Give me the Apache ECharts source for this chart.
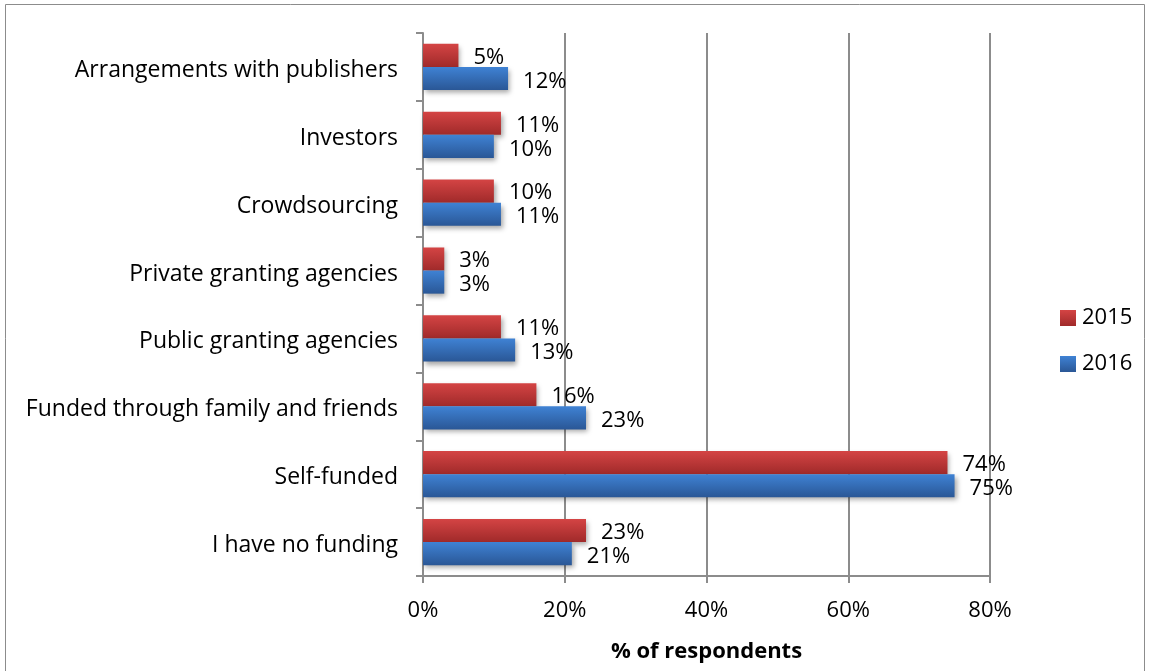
<!DOCTYPE html>
<html>
<head>
<meta charset="utf-8">
<script src="https://cdn.jsdelivr.net/npm/echarts@6/dist/echarts.min.js"></script>
<style>
  html, body { margin: 0; padding: 0; background: #fff; }
  #chart { width: 1149px; height: 671px; }
</style>
</head>
<body>
<div id="chart"></div>
<script>
// Funding sources, top to bottom
const categories = [
  'Arrangements with publishers',
  'Investors',
  'Crowdsourcing',
  'Private granting agencies',
  'Public granting agencies',
  'Funded through family and friends',
  'Self-funded',
  'I have no funding'
];
const values2015 = [5, 11, 10, 3, 11, 16, 74, 23];
const values2016 = [12, 10, 11, 3, 13, 23, 75, 21];
const xTicks = [0, 20, 40, 60, 80];

const FONT = '"Open Sans", "Noto Sans", sans-serif';
const FS = 22;

function grad(top, bottom) {
  return new echarts.graphic.LinearGradient(0, 0, 0, 1, [
    { offset: 0, color: top },
    { offset: 1, color: bottom }
  ]);
}

const chart = echarts.init(document.getElementById('chart'));
chart.setOption({
  animation: false,
  backgroundColor: '#fff',
  graphic: [{
    type: 'rect',
    shape: { x: 5.5, y: 4.5, width: 1139, height: 670 },
    style: { fill: 'none', stroke: '#8c8c8c', lineWidth: 1 },
    silent: true
  }],
  grid: { left: 423, right: 159, top: 33, bottom: 95 },
  legend: {
    orient: 'vertical',
    left: 1055,
    top: 302,
    itemWidth: 16,
    itemHeight: 16,
    itemGap: 24,
    icon: 'rect',
    textStyle: { fontFamily: FONT, fontSize: FS, color: '#000', padding: [2, 0, 0, 1] },
    data: ['2015', '2016']
  },
  xAxis: {
    type: 'value',
    min: xTicks[0],
    max: xTicks[xTicks.length - 1],
    interval: 20,
    name: '% of respondents',
    nameLocation: 'middle',
    nameGap: 65,
    nameTextStyle: { fontFamily: FONT, fontSize: FS, fontWeight: 'bold', color: '#000' },
    axisLine: { show: true, lineStyle: { color: '#8c8c8c', width: 2 } },
    axisTick: { show: true, length: 7, lineStyle: { color: '#8c8c8c', width: 2 } },
    axisLabel: {
      fontFamily: FONT, fontSize: FS, color: '#000', margin: 24,
      formatter: v => v + '%'
    },
    splitLine: { show: true, lineStyle: { color: '#8c8c8c', width: 2 } }
  },
  yAxis: {
    type: 'category',
    inverse: true,
    data: categories,
    axisLine: { show: true, lineStyle: { color: '#8c8c8c', width: 2 } },
    axisTick: { show: true, length: 7, lineStyle: { color: '#8c8c8c', width: 2 } },
    axisLabel: {
      margin: 25,
      formatter: v => '{c|' + v + '}',
      rich: {
        c: { fontFamily: FONT, fontSize: 23, color: '#000', padding: [7, 0, 0, 0] }
      }
    },
    splitLine: { show: false }
  },
  series: [
    {
      name: '2015',
      type: 'bar',
      data: values2015,
      barGap: '0%',
      barCategoryGap: '32%',
      itemStyle: {
        color: grad('#d44444', '#a02a2a'),
        shadowColor: 'rgba(0,0,0,0.35)', shadowBlur: 5, shadowOffsetX: 2, shadowOffsetY: 3
      },
      label: {
        show: true, position: 'right', distance: 15,
        fontFamily: FONT, fontSize: FS, color: '#000',
        offset: [0, 2],
        formatter: p => p.value + '%'
      }
    },
    {
      name: '2016',
      type: 'bar',
      data: values2016,
      barGap: '0%',
      barCategoryGap: '32%',
      itemStyle: {
        color: grad('#3f82d4', '#2a5796'),
        shadowColor: 'rgba(0,0,0,0.35)', shadowBlur: 5, shadowOffsetX: 2, shadowOffsetY: 3
      },
      label: {
        show: true, position: 'right', distance: 15,
        fontFamily: FONT, fontSize: FS, color: '#000',
        offset: [0, 3],
        formatter: p => p.value + '%'
      }
    }
  ]
});
</script>
</body>
</html>
